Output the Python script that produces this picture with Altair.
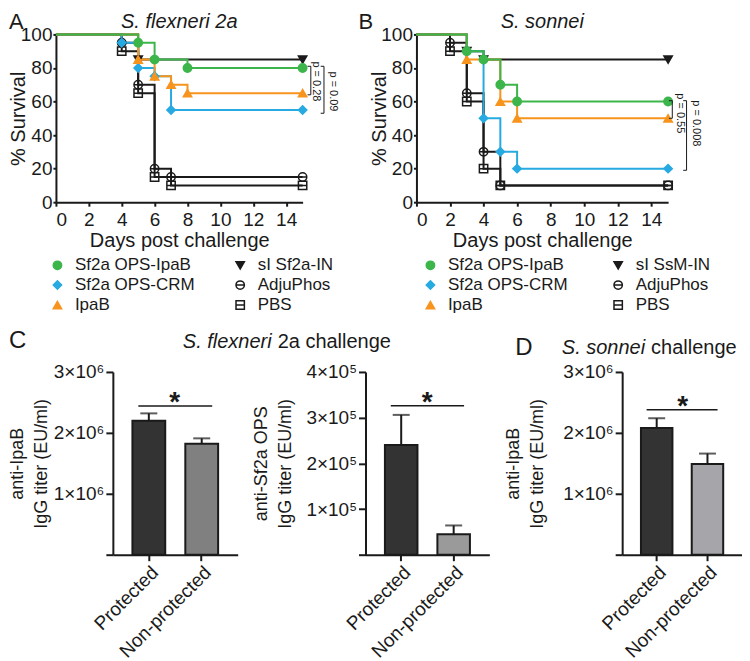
import altair as alt
import pandas as pd

FONT = "Liberation Sans"
BLACK = "#1a1a1a"
GREEN = "#3cb54a"
BLUE = "#27aae1"
ORANGE = "#f7941d"

# ---------------- Panel A: S. flexneri 2a (Kaplan-Meier) ----------------
a_ops_ipab_day = [0, 5, 6, 8, 15]
a_ops_ipab_surv = [100, 95, 85, 80, 80]
a_ops_crm_day = [0, 4, 5, 6, 7, 15]
a_ops_crm_surv = [100, 95, 80, 75, 55, 55]
a_ipab_day = [0, 5, 6, 7, 8, 15]
a_ipab_surv = [100, 85, 75, 70, 65, 65]
a_si_day = [0, 5, 15]
a_si_surv = [100, 85, 85]
a_adju_day = [0, 4, 5, 6, 7, 15]
a_adju_surv = [100, 95, 70, 20, 15, 15]
a_pbs_day = [0, 4, 5, 6, 7, 15]
a_pbs_surv = [100, 90, 65, 15, 10, 10]

# ---------------- Panel B: S. sonnei (Kaplan-Meier) ----------------
b_ops_ipab_day = [0, 3, 4, 5, 6, 15]
b_ops_ipab_surv = [100, 90, 85, 70, 60, 60]
b_ops_crm_day = [0, 3, 4, 5, 6, 15]
b_ops_crm_surv = [100, 90, 50, 30, 20, 20]
b_ipab_day = [0, 3, 5, 6, 15]
b_ipab_surv = [100, 85, 60, 50, 50]
b_si_day = [0, 3, 4, 15]
b_si_surv = [100, 90, 85, 85]
b_adju_day = [0, 2, 3, 4, 5, 15]
b_adju_surv = [100, 95, 65, 30, 10, 10]
b_pbs_day = [0, 2, 3, 4, 5, 15]
b_pbs_surv = [100, 90, 60, 20, 10, 10]

# legend order (two columns, filled column by column)
legend_a = ["Sf2a OPS-IpaB", "Sf2a OPS-CRM", "IpaB", "sI Sf2a-IN", "AdjuPhos", "PBS"]
legend_b = ["Sf2a OPS-IpaB", "Sf2a OPS-CRM", "IpaB", "sI SsM-IN", "AdjuPhos", "PBS"]
# drawing order (bottom to top)
draw_a = ["PBS", "AdjuPhos", "sI Sf2a-IN", "Sf2a OPS-CRM", "IpaB", "Sf2a OPS-IpaB"]
draw_b = ["PBS", "AdjuPhos", "sI SsM-IN", "Sf2a OPS-CRM", "IpaB", "Sf2a OPS-IpaB"]

# p-value annotations (day / % survival units)
a_p_text = ["p = 0.28", "p = 0.09"]
a_p_day = [15.8, 16.85]
a_p_surv = [72, 66]
a_br_day = [15.5, 16.3]
a_br_top = [81, 81]
a_br_bot = [64, 53]

b_p_text = ["p = 0.55", "p = 0.008"]
b_p_day = [15.7, 16.65]
b_p_surv = [53, 47]
b_br_day = [15.25, 16.1]
b_br_top = [60.5, 60.5]
b_br_bot = [50, 19]

# ---------------- Panels C and D: IgG titers ----------------
bar_cats = ["Protected", "Non-protected"]
c1_mean = [2.20e6, 1.82e6]
c1_upper = [2.32e6, 1.91e6]
c1_sig = 2.44e6
c2_mean = [2.40e5, 0.45e5]
c2_upper = [3.06e5, 0.64e5]
c2_sig = 3.26e5
d_mean = [2.08e6, 1.49e6]
d_upper = [2.24e6, 1.66e6]
d_sig = 2.38e6

CIRC_LINE = "M-1,0A1,1,0,1,1,1,0A1,1,0,1,1,-1,0ZM-1,0L1,0"
SQ_LINE = "M-1,-1L1,-1L1,1L-1,1ZM-1,0L1,0"
legend_colors = [GREEN, BLUE, ORANGE, BLACK, BLACK, BLACK]
legend_fills = [GREEN, BLUE, ORANGE, BLACK, "transparent", "transparent"]
legend_shapes = ["circle", "diamond", "triangle-up", "triangle-down", CIRC_LINE, SQ_LINE]
draw_colors = [BLACK, BLACK, BLACK, BLUE, ORANGE, GREEN]


def km_frame(series):
    rows = []
    for g, ds, ss in series:
        for d, s in zip(ds, ss):
            rows.append({"group": g, "day": d, "surv": s})
    return pd.DataFrame(rows)


def txt(s, x, y, size, style="normal", align="left", baseline="top", weight="normal"):
    return alt.Chart(pd.DataFrame({"t": [s]})).mark_text(
        font=FONT, fontSize=size, fontStyle=style, fontWeight=weight,
        align=align, baseline=baseline, color=BLACK
    ).encode(x=alt.value(x), y=alt.value(y), text="t:N")


def survival_panel(series, domain, draw_order, title, letter, letter_x, p_text, p_day, p_surv,
                   br_day, br_top, br_bot, legend_x, legend_cp, width):
    df = km_frame(series)
    pts = df[df["day"] > 0]
    x_axis = alt.Axis(values=list(range(0, 15, 2)), tickCount=20, title="Days post challenge",
                      titleY=38, titleBaseline="middle", tickSize=4, labelPadding=4,
                      labelFontSize=19, titleFontSize=20, labelOverlap=False)
    y_axis = alt.Axis(values=list(range(0, 101, 20)), tickCount=20, title="% Survival",
                      titleX=-47, titleY=84, titleBaseline="top", tickSize=3,
                      labelPadding=1, labelFontSize=19, titleFontSize=20, labelOverlap=False)
    X = alt.X("day:Q", scale=alt.Scale(domain=[0, 15], nice=False), axis=x_axis)
    Y = alt.Y("surv:Q", scale=alt.Scale(domain=[0, 100], nice=False), axis=y_axis)
    lines = alt.Chart(df).mark_line(interpolate="step-after", strokeWidth=2).encode(
        x=X, y=Y,
        color=alt.Color("group:N", scale=alt.Scale(domain=draw_order, range=draw_colors),
                        legend=None),
    )
    leg = alt.Legend(title=None, orient="none", legendX=legend_x, legendY=222.5, columns=2,
                     columnPadding=legend_cp, rowPadding=2, symbolSize=70,
                     symbolStrokeWidth=1.5, labelFontSize=17, labelFont=FONT,
                     labelColor=BLACK, labelOffset=9, padding=0, labelLimit=400)
    points = alt.Chart(pts).mark_point(size=70, strokeWidth=1.5, opacity=1).encode(
        x="day:Q", y="surv:Q",
        shape=alt.Shape("group:N", scale=alt.Scale(domain=domain, range=legend_shapes), legend=leg),
        fill=alt.Fill("group:N", scale=alt.Scale(domain=domain, range=legend_fills), legend=leg),
        stroke=alt.Stroke("group:N", scale=alt.Scale(domain=domain, range=legend_colors), legend=leg),
    )
    br = pd.DataFrame({"day": br_day, "top": br_top, "bot": br_bot})
    br["tick"] = br["day"] - 0.2
    vert = alt.Chart(br).mark_rule(color=BLACK, strokeWidth=1).encode(
        x="day:Q", y="top:Q", y2="bot:Q")
    t_top = alt.Chart(br).mark_rule(color=BLACK, strokeWidth=1).encode(
        x="tick:Q", x2="day:Q", y="top:Q")
    t_bot = alt.Chart(br).mark_rule(color=BLACK, strokeWidth=1).encode(
        x="tick:Q", x2="day:Q", y="bot:Q")
    pv = pd.DataFrame({"t": p_text, "day": p_day, "surv": p_surv})
    ptext = alt.Chart(pv).mark_text(angle=90, fontSize=11, font=FONT, color=BLACK,
                                    align="center", baseline="middle").encode(
        x="day:Q", y="surv:Q", text="t:N")
    ttl = txt(title, width / 2, -22, 20, style="italic", align="center")
    let = txt(letter, letter_x, -22, 22)
    return alt.layer(lines, points, vert, t_top, t_bot, ptext, ttl, let).properties(
        width=width, height=168)


def bar_panel(means, uppers, colors, sig, ymax, ticks, div, exp, title_lines, title_x,
              width, extra):
    df = pd.DataFrame({"cat": bar_cats, "mean": means, "upper": uppers})
    xs = alt.Scale(domain=bar_cats, paddingInner=0.38, paddingOuter=0.37)
    x_axis = alt.Axis(title=None, labelAngle=315, tickSize=6, labelPadding=2,
                      labelFontSize=19)
    X = alt.X("cat:N", scale=xs, sort=bar_cats, axis=x_axis)
    y_axis = alt.Axis(values=ticks, tickCount=20,
                      labelExpr=f"datum.value == 0 ? '' : format(datum.value / {div}, 'd') + '{exp}'",
                      title=title_lines, titleX=title_x, titleY=91.5, titleBaseline="top",
                      titleLineHeight=24, titleFontSize=18, tickSize=7, labelPadding=2,
                      labelFontSize=19, labelOverlap=False)
    ys = alt.Scale(domain=[0, ymax], nice=False)
    bars = alt.Chart(df).mark_bar(stroke=BLACK, strokeWidth=2).encode(
        x=X, y=alt.Y("mean:Q", scale=ys, axis=y_axis),
        fill=alt.Fill("cat:N", scale=alt.Scale(domain=bar_cats, range=colors), legend=None),
    )
    err = alt.Chart(df).mark_rule(color=BLACK, strokeWidth=2).encode(
        x=alt.X("cat:N"), y="mean:Q", y2="upper:Q")
    cap = alt.Chart(df).mark_tick(color=BLACK, thickness=2, size=17).encode(
        x=alt.X("cat:N"), y="upper:Q")
    sdf = pd.DataFrame({"cat": [bar_cats[0]], "cat2": [bar_cats[1]], "mean": [sig]})
    sline = alt.Chart(sdf).mark_rule(color=BLACK, strokeWidth=1.5).encode(
        x=alt.X("cat:N", bandPosition=0.18), x2=alt.X2("cat2:N", bandPosition=0.82),
        y="mean:Q")
    star = alt.Chart(sdf).mark_text(text="*", font=FONT, fontSize=28, fontWeight="bold",
                                    color=BLACK, baseline="alphabetic", dx=26, dy=5).encode(
        x=alt.X("cat:N", bandPosition=0.5), y="mean:Q")
    return alt.layer(bars, err, cap, sline, star, *extra).properties(width=width, height=183)


def resolved(ch):
    return ch.resolve_scale(x="independent", y="independent", color="independent",
                            fill="independent", stroke="independent",
                            shape="independent").resolve_legend(
        color="independent", fill="independent", stroke="independent", shape="independent")


series_a = [("PBS", a_pbs_day, a_pbs_surv), ("AdjuPhos", a_adju_day, a_adju_surv),
            ("sI Sf2a-IN", a_si_day, a_si_surv), ("Sf2a OPS-CRM", a_ops_crm_day, a_ops_crm_surv),
            ("IpaB", a_ipab_day, a_ipab_surv), ("Sf2a OPS-IpaB", a_ops_ipab_day, a_ops_ipab_surv)]
series_b = [("PBS", b_pbs_day, b_pbs_surv), ("AdjuPhos", b_adju_day, b_adju_surv),
            ("sI SsM-IN", b_si_day, b_si_surv), ("Sf2a OPS-CRM", b_ops_crm_day, b_ops_crm_surv),
            ("IpaB", b_ipab_day, b_ipab_surv), ("Sf2a OPS-IpaB", b_ops_ipab_day, b_ops_ipab_surv)]

panel_a = survival_panel(series_a, legend_a, draw_a, "S. flexneri 2a", "A", -47, a_p_text,
                         a_p_day, a_p_surv, a_br_day, a_br_top, a_br_bot, -7, 37, 247)
panel_b = survival_panel(series_b, legend_b, draw_b, "S. sonnei", "B", -58, b_p_text,
                         b_p_day, b_p_surv, b_br_day, b_br_top, b_br_bot, 5.5, 42, 252)

c1_extra = [txt("C", -104, -31, 24, baseline="middle"),
            txt("S. flexneri", 159, -30, 20, style="italic", align="right", baseline="middle"),
            txt("2a challenge", 165, -30, 20, baseline="middle")]
d_extra = [txt("D", -107, -24, 24, baseline="middle"),
           txt("S. sonnei", 23, -24, 20, style="italic", align="right", baseline="middle"),
           txt("challenge", 29, -24, 20, baseline="middle")]

panel_c1 = bar_panel(c1_mean, c1_upper, ["#333333", "#808080"], c1_sig, 3e6,
                     [0, 1e6, 2e6, 3e6], 1e6, "×10⁶", ["anti-IpaB", "IgG titer (EU/ml)"],
                     -104, 125, c1_extra)
panel_c2 = bar_panel(c2_mean, c2_upper, ["#333333", "#9a9a9a"], c2_sig, 4e5,
                     [0, 1e5, 2e5, 3e5, 4e5], 1e5, "×10⁵",
                     ["anti-Sf2a OPS", "IgG titer (EU/ml)"], -113, 124, [])
panel_d = bar_panel(d_mean, d_upper, ["#333333", "#a5a5aa"], d_sig, 3e6,
                     [0, 1e6, 2e6, 3e6], 1e6, "×10⁶", ["anti-IpaB", "IgG titer (EU/ml)"],
                     -118, 120, d_extra)

spacer = alt.Chart(pd.DataFrame({"v": [0]})).mark_point(opacity=0).encode(
    x=alt.value(0), y=alt.value(0)).properties(width=57, height=10)

row1 = resolved(alt.hconcat(panel_a, panel_b, spacing=114, bounds="flush"))
g1 = resolved(alt.hconcat(spacer, panel_c1, spacing=0, bounds="flush"))
g2 = resolved(alt.hconcat(panel_c2, panel_d, spacing=133, bounds="flush"))
row2 = resolved(alt.hconcat(g1, g2, spacing=310, bounds="flush"))

chart = resolved(alt.vconcat(row1, row2, spacing=338, bounds="flush")).properties(
    padding={"left": 0, "top": 3, "right": 0, "bottom": 0}, background="white"
).configure_axis(
    domainColor=BLACK, domainWidth=2, tickColor=BLACK, tickWidth=2,
    labelColor=BLACK, titleColor=BLACK, labelFont=FONT, titleFont=FONT,
    titleFontWeight="normal", grid=False, labelOverlap=False
).configure_view(stroke=None)

chart.save("out.html", embed_options={"renderer": "svg", "actions": False})
